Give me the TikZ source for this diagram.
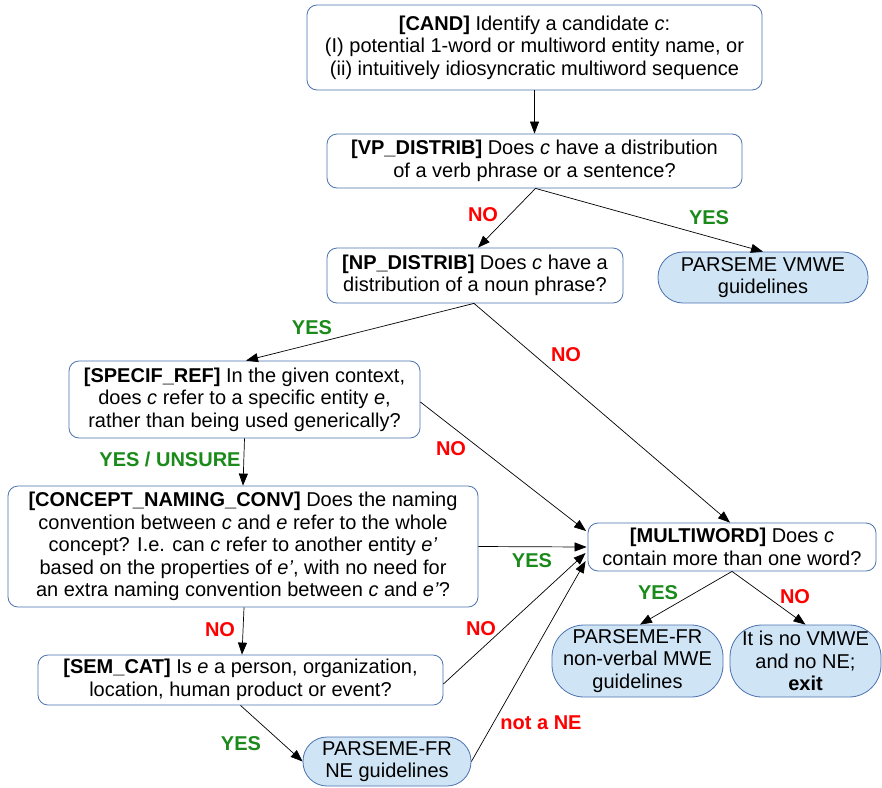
\documentclass[tikz,border=0pt]{standalone}
\usepackage{fontspec}
\setmainfont{Liberation Sans}
\usetikzlibrary{arrows.meta}
\definecolor{boxline}{HTML}{4A72B0}
\definecolor{termfill}{HTML}{CFE4F4}
\definecolor{yesgreen}{HTML}{1A8A1A}
\definecolor{nored}{HTML}{FF0000}
\tikzset{
  question/.style={draw=boxline, line width=0.8pt, fill=white, rounded corners=10pt, align=center, inner sep=0pt, font=\fontsize{20}{22.6}\selectfont},
  terminal/.style={draw=boxline, line width=0.8pt, fill=termfill, rectangle, align=center, inner sep=0pt, font=\fontsize{20}{22.6}\selectfont},
  conn/.style={-{Triangle[length=12pt,width=9pt]}, line width=0.7pt, black},
  yeslab/.style={text=yesgreen, font=\fontsize{20}{22}\selectfont\bfseries},
  nolab/.style={text=nored, font=\fontsize{20}{22}\selectfont\bfseries},
}
\begin{document}
\begin{tikzpicture}[x=1pt,y=-1pt]
\useasboundingbox (0,0) rectangle (882,787);
\node[question, minimum width=455pt, minimum height=85pt] (cand) at (534.5,47.5)
  {\textbf{[CAND]} Identify a candidate \textit{c}:\\(I) potential 1-word or multiword entity name, or\\(ii) intuitively idiosyncratic multiword sequence};
\node[question, minimum width=415pt, minimum height=54pt] (vp) at (534.5,161)
  {\textbf{[VP\_DISTRIB]} Does \textit{c} have a distribution\\of a verb phrase or a sentence?};
\node[question, minimum width=296pt, minimum height=55pt] (np) at (475,275.5)
  {\textbf{[NP\_DISTRIB]} Does \textit{c} have a\\distribution of a noun phrase?};
\node[terminal, rounded corners=25pt, minimum width=210pt, minimum height=51pt] (vmwe) at (763,277.5)
  {PARSEME VMWE\\guidelines};
\node[question, minimum width=351pt, minimum height=77pt] (spec) at (244.5,399.5)
  {\textbf{[SPECIF\_REF]} In the given context,\\does \textit{c} refer to a specific entity \textit{e},\\rather than being used generically?};
\node[question, minimum width=470pt, minimum height=121pt] (conc) at (243,546.5)
  {\textbf{[CONCEPT\_NAMING\_CONV]} Does the naming\\convention between \textit{c} and \textit{e} refer to the whole\\concept? I.e. can \textit{c} refer to another entity \textit{e’}\\based on the properties of \textit{e’}, with no need for\\an extra naming convention between \textit{c} and \textit{e’}?};
\node[question, minimum width=405pt, minimum height=50pt] (sem) at (240.5,680)
  {\textbf{[SEM\_CAT]} Is \textit{e} a person, organization,\\location, human product or event?};
\node[terminal, rounded corners=24pt, minimum width=168pt, minimum height=49pt] (ne) at (387,761.5)
  {PARSEME-FR\\NE guidelines};
\node[question, minimum width=288pt, minimum height=48pt] (mw) at (732,547)
  {\textbf{[MULTIWORD]} Does \textit{c}\\contain more than one word?};
\node[terminal, rounded corners=32pt, minimum width=171pt, minimum height=72pt] (nv) at (637.5,661)
  {PARSEME-FR\\non-verbal MWE\\guidelines};
\node[terminal, rounded corners=32pt, minimum width=151pt, minimum height=72pt] (ex) at (805.5,661)
  {It is no VMWE\\and no NE;\\\textbf{exit}};

\draw[conn] (cand.south) -- (vp.north);
\draw[conn] ([xshift=1pt]vp.south) -- ([xshift=3pt]np.north);
\draw[conn] ([xshift=1pt]vp.south) -- (vmwe.north);
\draw[conn] ([xshift=-1pt]np.south) -- ([xshift=1.5pt]spec.north);
\draw[conn] ([xshift=-1pt]np.south) -- ([xshift=-2pt]mw.north);
\draw[conn] ([yshift=-2.5pt]spec.east) -- ([xshift=-1.5pt,yshift=16pt]mw.west);
\draw[conn] (spec.south) -- (conc.north);
\draw[conn] (conc.east) -- ([xshift=-1pt]mw.west);
\draw[conn] ([xshift=1pt]conc.south) -- ([xshift=1.5pt]sem.north);
\draw[conn] ([yshift=-4pt]sem.east) -- ([xshift=-2pt,yshift=-6pt]mw.west);
\draw[conn] (sem.south) -- (ne.west);
\draw[conn] (ne.east) -- ([xshift=-2pt,yshift=-14pt]mw.west);
\draw[conn] (mw.south) -- ([xshift=2.5pt]nv.north);
\draw[conn] (mw.south) -- (ex.north);

\node[nolab] (l1) at (483,215) {NO};
\node[yeslab] (l2) at (709,218) {YES};
\node[yeslab] (l3) at (312,328) {YES};
\node[nolab] (l4) at (566,355) {NO};
\node[nolab] (l5) at (451,449) {NO};
\node[yeslab] (l6) at (170,459) {YES / UNSURE};
\node[yeslab] (l7) at (532,561) {YES};
\node[nolab] (l8) at (220,630) {NO};
\node[nolab] (l9) at (481,629) {NO};
\node[yeslab] (l10) at (241,744) {YES};
\node[nolab] (l11) at (541,723) {not a NE};
\node[yeslab] (l12) at (658,593) {YES};
\node[nolab] (l13) at (795,597) {NO};
\end{tikzpicture}
\end{document}
